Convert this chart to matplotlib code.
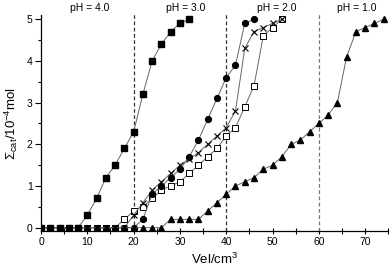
import matplotlib
matplotlib.use("Agg")
import matplotlib.pyplot as plt
from matplotlib.ticker import MultipleLocator

plt.rcParams['font.family'] = ['Liberation Sans', 'DejaVu Sans']
plt.rcParams['mathtext.fontset'] = 'custom'
plt.rcParams['mathtext.rm'] = 'Liberation Sans'
plt.rcParams['mathtext.it'] = 'Liberation Sans:italic'

# pH = 4.0 (filled squares)
x_sq = [0, 2, 4, 6, 8, 10, 12, 14, 16, 18, 20, 22, 24, 26, 28, 30, 32]
y_sq = [0, 0, 0, 0, 0, 0.3, 0.7, 1.2, 1.5, 1.9, 2.3, 3.2, 4.0, 4.4, 4.7, 4.9, 5.0]

# filled circles
x_ci = [0, 2, 4, 6, 8, 10, 12, 14, 16, 18, 20, 22, 24, 26, 28, 30, 32, 34, 36, 38, 40, 42, 44, 46]
y_ci = [0, 0, 0, 0, 0, 0, 0, 0, 0, 0, 0, 0.2, 0.8, 1.0, 1.2, 1.4, 1.7, 2.1, 2.6, 3.1, 3.6, 3.9, 4.9, 5.0]

# crosses
x_cr = [0, 2, 4, 6, 8, 10, 12, 14, 16, 18, 20, 22, 24, 26, 28, 30, 32, 34, 36, 38, 40, 42, 44, 46, 48, 50, 52]
y_cr = [0, 0, 0, 0, 0, 0, 0, 0, 0, 0, 0.3, 0.6, 0.9, 1.1, 1.3, 1.5, 1.65, 1.8, 2.0, 2.2, 2.4, 2.8, 4.3, 4.7, 4.8, 4.9, 5.0]

# open squares
x_os = [0, 2, 4, 6, 8, 10, 12, 14, 16, 18, 20, 22, 24, 26, 28, 30, 32, 34, 36, 38, 40, 42, 44, 46, 48, 50, 52]
y_os = [0, 0, 0, 0, 0, 0, 0, 0, 0, 0.2, 0.4, 0.5, 0.7, 0.9, 1.0, 1.1, 1.3, 1.5, 1.7, 1.9, 2.2, 2.4, 2.9, 3.4, 4.6, 4.8, 5.0]

# filled triangles
x_tr = [0, 2, 4, 6, 8, 10, 12, 14, 16, 18, 20, 22, 24, 26, 28, 30, 32, 34, 36, 38, 40, 42, 44, 46, 48,
        50, 52, 54, 56, 58, 60, 62, 64, 66, 68, 70, 72, 74]
y_tr = [0, 0, 0, 0, 0, 0, 0, 0, 0, 0, 0, 0, 0, 0, 0.2, 0.2, 0.2, 0.2, 0.4, 0.6, 0.8, 1.0, 1.1, 1.2, 1.4,
        1.5, 1.7, 2.0, 2.1, 2.3, 2.5, 2.7, 3.0, 4.1, 4.7, 4.8, 4.9, 5.0]

ph_lines = [20, 40, 60]
ph_labels = ["pH = 4.0", "pH = 3.0", "pH = 2.0", "pH = 1.0"]
ph_label_x = [10.6, 31.3, 50.9, 68.2]

fig = plt.figure(figsize=(3.92, 2.71), dpi=100)
ax = fig.add_axes([0.1046, 0.1476, 0.886, 0.797])

lc = '#666666'
lw = 0.7
ax.plot(x_os, y_os, '-', color=lc, lw=lw, marker='s', ms=3.8, mfc='white', mec='black', mew=0.7, zorder=3)
ax.plot(x_cr, y_cr, '-', color=lc, lw=lw, marker='x', ms=4.5, mec='black', mew=0.8, zorder=4)
ax.plot(x_ci, y_ci, '-', color=lc, lw=lw, marker='o', ms=4.2, mfc='black', mec='black', zorder=4)
ax.plot(x_tr, y_tr, '-', color=lc, lw=lw, marker='^', ms=4.6, mfc='black', mec='black', zorder=4)
ax.plot(x_sq, y_sq, '-', color=lc, lw=lw, marker='s', ms=3.8, mfc='black', mec='black', zorder=5)

for xv, c in zip(ph_lines, ['#333333', '#333333', '#777777']):
    ax.axvline(xv, color=c, ls=(0, (3, 2)), lw=0.9, zorder=2, ymax=1.01, clip_on=False)

for lab, xv in zip(ph_labels, ph_label_x):
    ax.text(xv, 5.28, lab, ha='center', va='center', fontsize=7.5, clip_on=False)

ax.set_xlim(0, 75)
ax.set_ylim(-0.08, 5.1)
ax.spines['top'].set_visible(False)
ax.spines['right'].set_visible(False)
ax.xaxis.set_major_locator(MultipleLocator(10))
ax.xaxis.set_minor_locator(MultipleLocator(5))
ax.yaxis.set_major_locator(MultipleLocator(1))
ax.yaxis.set_minor_locator(MultipleLocator(0.5))
ax.tick_params(axis='x', which='both', direction='inout', length=5, width=0.8, labelsize=7.5, pad=2)
ax.tick_params(axis='y', which='major', direction='out', length=4, width=0.8, labelsize=7.5, pad=2)
ax.tick_params(axis='y', which='minor', direction='out', length=2.5, width=0.8)
for s in ['left', 'bottom']:
    ax.spines[s].set_linewidth(0.9)

ax.set_xlabel(r'Vel/cm$^3$', fontsize=9.5, labelpad=3)
ax.set_ylabel(r'$\mathregular{\Sigma_{cat}/10^{-4}mol}$', fontsize=9.5, labelpad=5)

fig.savefig('out.png', dpi=100)
